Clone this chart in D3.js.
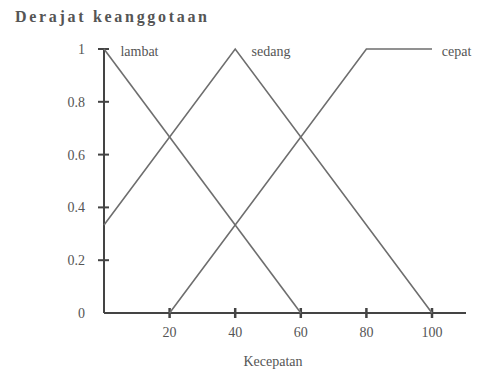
<!doctype html>
<html>
  <head>
    <meta charset="utf-8">
    <title>Keanggotaan</title>
    <script type="text/javascript" src="https://d3js.org/d3.v7.min.js"></script>
    <style>
      body { margin: 0; background: #fff; }
      text { font-family: "Liberation Serif", "DejaVu Serif", serif; fill: #555; }
    </style>
  </head>
  <body>
    <script>
      // himpunan fuzzy kecepatan
      const setNames = ['lambat', 'sedang', 'cepat'];
      const lambat = [[0, 1], [60, 0]];
      const sedang = [[0, 0.333], [40, 1], [100, 0]];
      const cepat = [[20, 0], [80, 1], [100, 1]];
      const labelAt = [[5, 1], [45, 1], [103, 1]];

      const xTicks = [20, 40, 60, 80, 100];
      const yTicks = [0, 0.2, 0.4, 0.6, 0.8, 1];

      const svgWidth = 484;
      const svgHeight = 378;

      const svg = d3.select('body').append('svg')
          .attr('width', svgWidth)
          .attr('height', svgHeight);

      // skala
      const x = d3.scaleLinear()
          .domain([0, 100])
          .range([104, 432]);

      const y = d3.scaleLinear()
          .domain([0, 1])
          .range([313, 49]);

      const xEnd = 466;

      // sumbu
      svg.append('line')
          .attr('x1', x(0)).attr('x2', xEnd)
          .attr('y1', y(0)).attr('y2', y(0))
          .attr('stroke', '#444').attr('stroke-width', 2);

      svg.append('line')
          .attr('x1', x(0)).attr('x2', x(0))
          .attr('y1', y(0)).attr('y2', y(1))
          .attr('stroke', '#444').attr('stroke-width', 2);

      svg.append('g')
        .selectAll('line')
        .data(xTicks)
        .enter().append('line')
          .attr('x1', d => x(d)).attr('x2', d => x(d))
          .attr('y1', y(0) - 5).attr('y2', y(0) + 5)
          .attr('stroke', '#444').attr('stroke-width', 2.5);

      svg.append('g')
        .selectAll('line')
        .data(yTicks.filter(d => d > 0))
        .enter().append('line')
          .attr('x1', x(0) - 6).attr('x2', x(0) + 5)
          .attr('y1', d => y(d)).attr('y2', d => y(d))
          .attr('stroke', '#444').attr('stroke-width', 2);

      svg.append('g')
        .selectAll('text')
        .data(xTicks)
        .enter().append('text')
          .attr('x', d => x(d))
          .attr('y', y(0) + 24)
          .attr('text-anchor', 'middle')
          .attr('font-size', 14)
          .text(d => d);

      svg.append('g')
        .selectAll('text')
        .data(yTicks)
        .enter().append('text')
          .attr('x', x(0) - 19)
          .attr('y', d => y(d))
          .attr('dy', '.35em')
          .attr('text-anchor', 'end')
          .attr('font-size', 14)
          .text(d => d);

      // garis keanggotaan
      const line = d3.line()
          .x(d => x(d[0]))
          .y(d => y(d[1]));

      svg.append('g')
        .selectAll('path')
        .data([lambat, sedang, cepat])
        .enter().append('path')
          .attr('d', line)
          .attr('fill', 'none')
          .attr('stroke', '#6e6e6e')
          .attr('stroke-width', 1.6);

      svg.append('g')
        .selectAll('text')
        .data(setNames)
        .enter().append('text')
          .attr('x', (d, i) => x(labelAt[i][0]))
          .attr('y', (d, i) => y(labelAt[i][1]) + 7)
          .attr('font-size', 14)
          .attr('fill', '#888')
          .text(d => d);

      // judul sumbu
      svg.append('text')
          .attr('x', 15)
          .attr('y', 22)
          .attr('font-size', 16)
          .attr('font-weight', 'bold')
          .attr('textLength', 192)
          .text('Derajat keanggotaan');

      svg.append('text')
          .attr('x', 273)
          .attr('y', 366)
          .attr('text-anchor', 'middle')
          .attr('font-size', 14)
          .text('Kecepatan');
    </script>
  </body>
</html>
